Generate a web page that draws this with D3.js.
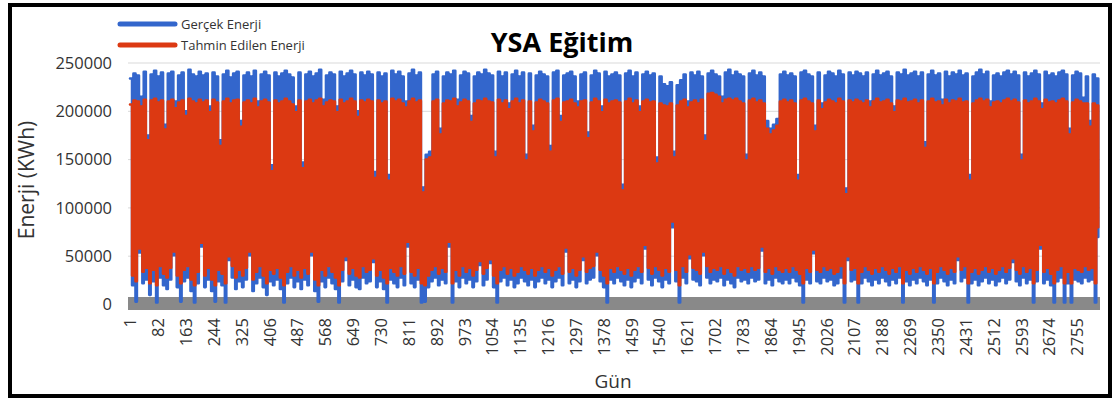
<!DOCTYPE html>
<html>
<head>
<meta charset="utf-8">
<script src="https://cdn.jsdelivr.net/npm/d3@7"></script>
<style>
body { margin: 0; background: #fff; }
text { font-family: "Open Sans", sans-serif; }
</style>
</head>
<body>
<svg id="chart" width="1116" height="400"></svg>
<script>
// values, in thousands of kWh
// one peak + one trough for every 10 days (2820 days)
var gercekTepe = [
  234,239,237,215,241,175,238,242,236,240, 186,239,241,210,237,240,200,243,238,236,
  241,237,239,205,240,236,170,238,242,235, 239,241,190,237,240,236,242,210,238,241,
  237,144,240,236,239,242,238,235,205,240, 147,238,241,236,239,243,212,237,240,238,
  205,241,236,239,242,238,200,240,237,241, 238,137,240,236,239,134,242,238,241,236,
  210,239,243,237,240,121,155,158,238,241, 182,236,240,238,242,212,237,241,239,195,
  236,240,238,243,239,237,158,241,236,240, 208,238,242,236,240,155,239,185,237,241,
  238,236,164,240,242,195,237,239,241,236, 210,238,240,178,237,242,239,205,241,236,
  238,240,237,124,239,242,236,240,205,238, 241,237,239,152,236,228,226,230,158,227,
  232,238,210,240,237,241,236,175,239,242, 238,236,215,240,243,237,241,238,236,155,
  239,242,237,240,236,190,182,186,192,238, 241,237,239,236,134,240,242,238,236,185,
  240,208,237,241,239,236,242,238,120,240, 237,241,239,236,240,210,238,242,237,239,
  241,236,205,240,238,243,237,239,241,236, 240,168,238,242,237,239,212,241,236,240,
  238,242,237,239,134,236,240,243,238,241, 210,237,239,236,240,242,238,241,237,155,
  240,236,239,242,238,208,241,237,239,236, 240,242,238,182,237,241,239,214,236,190,
  238,234
];
var gercekDip = [
  20,3,54,22,26,10,24,2,28,20, 16,26,51,18,3,24,28,14,2,22,
  60,18,26,14,3,24,20,2,46,28, 16,24,18,26,51,14,22,28,18,10,
  24,20,26,16,2,22,28,18,24,16, 26,20,51,14,3,24,18,28,22,16,
  2,24,46,20,26,18,16,28,22,24, 44,18,24,16,2,26,22,18,28,20,
  60,22,18,26,2,3,18,24,28,20, 26,22,60,2,24,18,28,22,26,18,
  24,41,20,26,43,18,2,24,28,20, 26,18,22,28,24,20,26,18,24,28,
  22,26,18,24,28,20,55,22,26,18, 24,46,22,26,28,51,24,18,2,26,
  22,28,24,20,26,18,24,28,22,58, 26,20,28,24,18,26,22,80,24,2,
  28,22,48,26,24,20,51,28,22,26, 24,28,20,26,22,18,28,24,26,22,
  28,24,26,56,22,26,20,28,24,22, 26,22,28,24,20,2,26,22,53,24,
  22,28,24,26,20,22,28,2,46,24, 26,2,22,28,24,20,26,22,28,24,
  20,26,22,28,2,24,20,26,22,28, 24,20,26,2,22,28,24,20,26,22,
  46,24,28,2,22,26,20,24,28,22, 26,20,24,28,22,26,44,24,20,28,
  22,26,2,24,58,22,26,20,2,24, 28,2,22,2,26,24,22,28,24,26,
  2,70
];
var tahminTepe = [
  207,211,210,205,212,170,211,213,209,211, 181,210,212,203,209,211,195,213,210,208,
  212,209,211,199,212,209,164,210,213,208, 211,212,184,209,211,208,213,204,210,212,
  209,138,211,208,210,213,210,207,199,211, 141,210,212,208,211,213,205,209,211,210,
  199,212,208,210,213,210,194,211,209,212, 210,131,211,208,210,128,213,210,212,208,
  204,210,213,209,211,116,150,152,210,212, 176,208,211,210,213,205,209,212,210,189,
  208,211,210,213,210,209,152,212,208,211, 202,210,213,208,211,149,210,179,209,212,
  210,208,158,211,213,189,209,210,212,208, 204,210,211,172,209,213,210,199,212,208,
  210,211,209,118,210,213,208,211,199,210, 212,209,210,146,208,206,205,208,152,206,
  210,212,204,209,211,208,212,169,218,219, 217,215,208,212,213,211,213,210,208,149,
  211,213,209,211,208,182,176,180,185,210, 212,209,211,208,128,211,213,210,208,179,
  211,202,209,212,210,208,213,210,114,211, 209,212,210,208,211,204,210,213,209,210,
  212,208,199,211,210,213,209,210,212,208, 211,162,210,213,209,210,206,212,208,211,
  210,213,209,210,128,208,211,213,210,212, 204,209,210,208,211,213,210,212,209,149,
  211,208,210,213,210,202,212,209,210,208, 211,213,210,176,209,212,210,208,208,184,
  208,206
];
var tahminDip = [
  30,24,58,34,38,22,36,20,40,32, 28,38,55,30,22,36,40,26,20,34,
  64,30,38,26,20,36,32,22,50,40, 28,36,30,38,55,26,34,40,30,22,
  36,32,38,28,20,34,40,30,36,28, 38,32,55,26,20,36,30,40,34,28,
  20,36,50,32,38,30,28,40,34,36, 48,30,36,28,22,38,34,30,40,32,
  65,34,30,38,22,20,30,36,40,32, 38,34,65,22,36,30,40,34,38,30,
  36,45,32,38,47,30,22,36,40,32, 38,30,34,40,36,32,38,30,36,40,
  34,38,30,36,40,32,59,34,38,30, 36,50,34,38,40,55,36,30,22,38,
  34,40,36,32,38,30,36,40,34,62, 38,32,40,36,30,38,34,86,36,20,
  40,34,52,38,36,32,55,40,34,38, 36,40,32,38,34,30,40,36,38,34,
  40,36,38,60,34,38,32,40,36,34, 38,34,40,36,32,22,38,34,57,36,
  34,40,36,38,32,34,40,22,50,36, 38,22,34,40,36,32,38,34,40,36,
  32,38,34,40,22,36,32,38,34,40, 36,32,38,22,34,40,36,32,38,34,
  50,36,40,22,34,38,32,36,40,34, 38,32,36,40,34,38,48,36,32,40,
  34,38,22,36,62,34,38,32,22,36, 40,22,34,22,38,36,34,40,36,38,
  22,80
];
var gunEtiketleri = [1, 82, 163, 244, 325, 406, 487, 568, 649, 730, 811, 892, 973,
  1054, 1135, 1216, 1297, 1378, 1459, 1540, 1621, 1702, 1783, 1864, 1945, 2026,
  2107, 2188, 2269, 2350, 2431, 2512, 2593, 2674, 2755];
var enerjiEtiketleri = [0, 50000, 100000, 150000, 200000, 250000];
var seriler = [
  {name: "Gerçek Enerji", color: "#3366cc", tepe: gercekTepe, dip: gercekDip},
  {name: "Tahmin Edilen Enerji", color: "#dc3912", tepe: tahminTepe, dip: tahminDip}
];

var svg = d3.select("#chart");

var x = d3.scaleLinear().domain([1, 2822]).range([130, 1100]);
var y = d3.scaleLinear().domain([0, 250000]).range([304.5, 63]);

// frame
svg.append("rect")
  .attr("x", 10).attr("y", 5)
  .attr("width", 1100).attr("height", 391)
  .attr("fill", "none").attr("stroke", "#000").attr("stroke-width", 4);

// gridlines
svg.append("g").selectAll("line")
  .data(enerjiEtiketleri)
  .enter().append("line")
  .attr("x1", 128).attr("x2", 1100)
  .attr("y1", d => y(d)).attr("y2", d => y(d))
  .attr("stroke", "#d9d9d9").attr("stroke-width", 1);

// thick grey base
svg.append("rect")
  .attr("x", 128).attr("y", y(0) - 7.5)
  .attr("width", 972).attr("height", 13)
  .attr("fill", "#898989");

// busy-day plateau (6 days) then quiet-day trough (4 days)
function toPoints(tepe, dip) {
  var pts = [];
  tepe.forEach(function(v, i) {
    pts.push([i * 10 + 1, v * 1000]);
    pts.push([i * 10 + 7, dip[i] * 1000]);
  });
  return pts;
}

var line = d3.line()
  .curve(d3.curveStepAfter)
  .x(d => x(d[0]))
  .y(d => y(d[1]));

seriler.forEach(function(s) {
  svg.append("path")
    .datum(toPoints(s.tepe, s.dip))
    .attr("d", line)
    .attr("fill", "none")
    .attr("stroke", s.color)
    .attr("stroke-width", 2.6)
    .attr("stroke-linejoin", "round")
    .attr("stroke-linecap", "round");
});

// y axis
var yAxis = svg.append("g")
  .attr("transform", "translate(112,0)")
  .call(d3.axisLeft(y).tickValues(enerjiEtiketleri).tickSize(0).tickPadding(0).tickFormat(d => d));
yAxis.select(".domain").remove();
yAxis.selectAll("text")
  .attr("font-family", "Open Sans, sans-serif")
  .attr("font-size", "16.5px")
  .attr("fill", "#333");

// x axis
var xAxis = svg.append("g")
  .attr("transform", "translate(0,318)")
  .call(d3.axisBottom(x).tickValues(gunEtiketleri).tickSize(0).tickFormat(d => d));
xAxis.select(".domain").remove();
xAxis.selectAll("text")
  .attr("font-family", "Open Sans, sans-serif")
  .attr("font-size", "16.5px")
  .attr("fill", "#333")
  .attr("text-anchor", "end")
  .attr("transform", "rotate(-90)")
  .attr("x", 0)
  .attr("y", 0)
  .attr("dy", "0.35em");

// titles
svg.append("text")
  .attr("x", 562).attr("y", 52)
  .attr("text-anchor", "middle")
  .attr("font-size", "27px")
  .attr("font-weight", "bold")
  .attr("fill", "#000")
  .text("YSA Eğitim");

svg.append("text")
  .attr("x", 613).attr("y", 388)
  .attr("text-anchor", "middle")
  .attr("font-size", "19px")
  .attr("fill", "#333")
  .text("Gün");

svg.append("text")
  .attr("transform", "translate(34,180) rotate(-90)")
  .attr("text-anchor", "middle")
  .attr("font-size", "21px")
  .attr("fill", "#333")
  .text("Enerji (KWh)");

// legend
var legend = svg.append("g");
seriler.forEach(function(s, i) {
  var ly = 24 + i * 21;
  legend.append("line")
    .attr("x1", 120).attr("x2", 175)
    .attr("y1", ly).attr("y2", ly)
    .attr("stroke", s.color).attr("stroke-width", 5)
    .attr("stroke-linecap", "round");
  legend.append("text")
    .attr("x", 181).attr("y", ly + 4.5)
    .attr("font-size", "13px")
    .attr("fill", "#333")
    .text(s.name);
});
</script>
</body>
</html>
